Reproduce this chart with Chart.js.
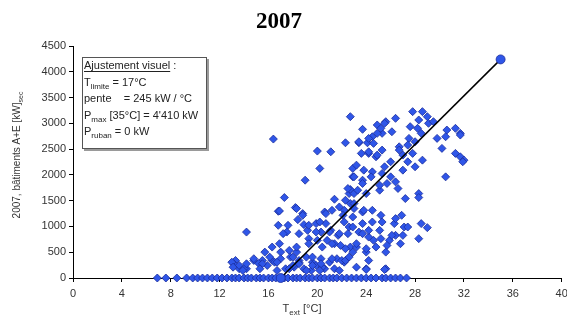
<!DOCTYPE html>
<html>
<head>
<meta charset="utf-8">
<script src="https://cdn.jsdelivr.net/npm/chart.js@4"></script>
<style>
  body { margin: 0; background: #fff; }
  #wrap { width: 567px; height: 320px; }
</style>
</head>
<body>
<div id="wrap"><canvas id="puissanceChart" width="567" height="320"></canvas></div>
<script>
const xTicks = [0, 4, 8, 12, 16, 20, 24, 28, 32, 36, 40];
const yTicks = [0, 500, 1000, 1500, 2000, 2500, 3000, 3500, 4000, 4500];

// points à puissance nulle (T ext)
const tZero = [6.9, 7.6, 8.5, 9.3, 9.8, 10.2, 10.6, 11.0, 11.4, 11.8, 12.2, 12.6, 13.0, 13.3, 13.6,
  14.0, 14.3, 14.6, 15.0, 15.3, 15.6, 16.0, 16.3, 16.6, 17.0, 17.3, 17.6, 18.0, 18.3, 18.6, 19.0,
  19.3, 19.6, 20.0, 20.3, 20.6, 21.0, 21.3, 21.6, 22.0, 22.4, 22.8, 23.2, 23.6, 24.0, 24.4, 24.8,
  25.3, 25.6, 26.0, 26.4, 26.8, 27.3];

// mesures journalières : température extérieure [°C] et puissance [kW]
const tExt = [17.3, 16.8, 18.2, 18.8, 18.4, 16.8, 17.6, 17.5, 18.9, 19.2, 18.5, 14.2, 21.4, 20.6, 19.9,
  20.7, 20.3, 21.1, 21.7, 22.2, 22.5, 22.2, 22.7, 22.6, 19.3, 20.0, 20.8, 21.4, 21.9, 22.7, 16.3,
  17.0, 17.7, 18.3, 15.7, 14.8, 15.5, 16.3, 17.0, 17.8, 18.5, 19.1, 19.6, 20.3, 21.0, 21.6, 22.2,
  14.2, 18.1, 18.9, 19.5, 19.9, 20.6, 21.4, 16.7, 17.4, 13.3, 13.2, 13.6, 13.0, 13.6, 14.0, 15.2,
  15.9, 16.5, 18.0, 18.5, 19.6, 20.4, 22.0, 24.0, 25.6, 16.4, 22.7, 22.3, 20.0, 21.1, 20.2, 19.0,
  22.9, 22.9, 22.7, 23.0, 23.7, 24.9, 25.6, 25.3, 24.5, 26.1, 23.4, 24.1, 23.6, 24.2, 24.8, 26.0,
  23.2, 23.8, 24.5, 25.3, 25.7, 23.7, 22.5, 23.3, 24.0, 25.1, 22.3, 23.0, 16.9, 18.3, 18.8, 20.7,
  21.2, 21.8, 22.1, 22.9, 23.7, 24.5, 25.2, 26.3, 17.2, 19.3, 20.2, 19.9, 21.0, 21.8, 22.6, 23.4,
  24.2, 25.1, 25.9, 26.4, 16.9, 18.3, 19.3, 20.4, 21.2, 22.3, 23.2, 24.0, 24.8, 25.6, 14.2, 14.8,
  15.5, 16.1, 16.7, 18.0, 18.5, 19.6, 20.3, 21.2, 22.3, 23.2, 24.2, 13.1, 13.9, 15.3, 17.7, 19.1,
  20.2, 21.8, 27.8, 28.6, 29.0, 28.3, 29.1, 29.5, 27.6, 28.2, 26.4, 25.5, 25.2, 24.9, 24.2, 23.4,
  24.6, 27.5, 28.0, 27.4, 26.7, 28.5, 29.8, 30.6, 31.3, 31.7, 30.5, 30.2, 31.3, 31.7, 32.0, 30.5,
  24.2, 24.9, 25.3, 26.7, 27.0, 27.8, 27.4, 28.6, 28.0, 25.5, 23.0, 24.4, 26.0, 26.4, 27.0, 23.7,
  25.1, 26.6, 28.3, 27.2, 28.3, 26.4, 26.9, 27.1, 27.4, 28.5, 29.0, 28.3, 26.1, 27.0, 26.8, 24.5,
  25.3, 23.7, 22.9, 24.2, 23.7, 25.2, 24.6, 25.7, 23.2, 24.0, 22.9, 22.6, 23.8, 23.0, 24.0, 25.5,
  31.7, 31.9];
const pKw = [1561, 1294, 1366, 1249, 1132, 1022, 1022, 891, 1035, 924, 860, 891, 1528, 1280, 1055,
  1055, 891, 924, 827, 1086, 860, 1313, 1444, 1638, 763, 730, 730, 665, 632, 600, 600,
  502, 535, 502, 502, 340, 340, 340, 374, 405, 340, 405, 307, 374, 307, 374, 307,
  179, 210, 179, 146, 243, 179, 179, 146, 179, 340, 263, 179, 307, 243, 185, 282,
  243, 307, 243, 300, 243, 210, 340, 179, 179, 2695, 3129, 2623, 2462, 2448, 2125, 1897,
  2125, 1962, 1716, 1638, 2884, 2968, 3032, 2806, 2740, 2837, 2623, 2623, 2417, 2417, 2351, 2254,
  2189, 2092, 2059, 2028, 1833, 1897, 1736, 1703, 1638, 1703, 1508, 1444, 1300, 1347, 1216, 1249,
  1313, 1378, 1216, 1183, 1280, 1313, 1216, 1055, 860, 1022, 1086, 891, 891, 860, 989, 891,
  794, 924, 730, 827, 665, 600, 665, 600, 665, 568, 600, 502, 600, 502, 276, 374,
  276, 405, 307, 405, 276, 405, 276, 374, 340, 210, 340, 210, 146, 179, 179, 146,
  146, 146, 3227, 3227, 3129, 3065, 3000, 3032, 2935, 2903, 3097, 3000, 2903, 2806, 2708, 2643,
  2611, 2708, 2643, 2578, 2545, 2806, 2708, 2870, 2903, 2806, 2740, 2514, 2417, 2351, 2286, 1962,
  2448, 2384, 2481, 2481, 2384, 2417, 2254, 2286, 2157, 2157, 1962, 1962, 1962, 1865, 2092, 1833,
  1800, 1736, 1638, 1541, 1561, 1152, 1216, 989, 989, 1055, 977, 763, 827, 827, 665, 1086,
  1086, 1055, 989, 924, 860, 763, 730, 632, 665, 568, 502, 405, 1313, 1347, 165, 165,
  2773, 2254];

// ajustement visuel
const fitT = [17, 35];
const fitP = [0, 4240];

const bleu = '#2f56e8';
const bleuBord = '#1b2c9c';
const police = "'Liberation Sans', Arial, sans-serif";

const points = tZero.map(t => ({ x: t, y: 0 }))
  .concat(tExt.map((t, i) => ({ x: t, y: pKw[i] })));
const droite = fitT.map((t, i) => ({ x: t, y: fitP[i] }));

// texte avec indices (T_ext, P_max ...)
function texteRiche(ctx, parts, x, y, size) {
  let cx = x;
  parts.forEach(p => {
    ctx.font = (p.sub ? size - 3 : size) + 'px ' + police;
    ctx.fillText(p.t, cx, p.sub ? y + 3 : y);
    const w = ctx.measureText(p.t).width;
    if (p.u) ctx.fillRect(cx, y + 2, w, 1);
    cx += w;
  });
}
function largeur(ctx, parts, size) {
  let larg = 0;
  parts.forEach(p => {
    ctx.font = (p.sub ? size - 3 : size) + 'px ' + police;
    larg += ctx.measureText(p.t).width;
  });
  return larg;
}

const textes = {
  id: 'textes',
  afterDraw(chart) {
    const ctx = chart.ctx;
    ctx.save();
    ctx.textAlign = 'left';
    ctx.textBaseline = 'alphabetic';

    // titre
    ctx.fillStyle = '#000';
    ctx.font = "bold 23px 'Liberation Serif', 'Times New Roman', serif";
    ctx.textAlign = 'center';
    ctx.fillText('2007', 279, 28);
    ctx.textAlign = 'left';

    // titre axe x
    ctx.fillStyle = '#333';
    const px = [{ t: 'T' }, { t: 'ext', sub: true }, { t: ' [°C]' }];
    texteRiche(ctx, px, 302 - largeur(ctx, px, 11) / 2, 312, 11);

    // titre axe y
    const py = [{ t: '2007, bâtiments A+E [kW]' }, { t: 'sec', sub: true }];
    ctx.translate(20, 155);
    ctx.rotate(-Math.PI / 2);
    texteRiche(ctx, py, -largeur(ctx, py, 10) / 2, 0, 10);
    ctx.setTransform(1, 0, 0, 1, 0, 0);

    // cadre d'annotation
    ctx.fillStyle = '#9a9a9a';
    ctx.fillRect(84, 59, 125, 92);
    ctx.fillStyle = '#fff';
    ctx.fillRect(82, 57, 125, 92);
    ctx.strokeStyle = '#555';
    ctx.lineWidth = 1;
    ctx.strokeRect(82.5, 57.5, 124, 91);
    ctx.fillStyle = '#222';
    const lignes = [
      [{ t: 'Ajustement visuel', u: true }, { t: ' :' }],
      [{ t: 'T' }, { t: 'limite', sub: true }, { t: ' = 17°C' }],
      [{ t: 'pente    = 245 kW / °C' }],
      [{ t: 'P' }, { t: 'max', sub: true }, { t: ' [35°C] = 4\'410 kW' }],
      [{ t: 'P' }, { t: 'ruban', sub: true }, { t: ' = 0 kW' }]
    ];
    lignes.forEach((l, i) => texteRiche(ctx, l, 84, 69 + i * 16.5, 11));
    ctx.restore();
  }
};

const ctx = document.getElementById('puissanceChart').getContext('2d');
const chart = new Chart(ctx, {
  type: 'scatter',
  data: {
    datasets: [{
      type: 'line',
      data: droite,
      borderColor: '#000',
      borderWidth: 1.5,
      pointRadius: 4.5,
      pointBackgroundColor: bleu,
      pointBorderColor: bleuBord,
      pointBorderWidth: 0.8,
      fill: false,
      clip: false
    }, {
      data: points,
      pointStyle: 'rectRot',
      pointRadius: 4,
      backgroundColor: bleu,
      borderColor: bleuBord,
      borderWidth: 0.8,
      clip: false
    }]
  },
  options: {
    responsive: false,
    animation: false,
    layout: { padding: { top: 46, right: 4, left: 0, bottom: 0 } },
    plugins: { legend: { display: false }, tooltip: { enabled: false } },
    scales: {
      x: {
        type: 'linear',
        min: xTicks[0],
        max: xTicks[xTicks.length - 1],
        afterBuildTicks: s => { s.ticks = xTicks.map(v => ({ value: v })); },
        afterFit: s => { s.height = 42; s.paddingLeft = 0; s.paddingRight = 0; },
        grid: { drawOnChartArea: false, drawTicks: true, tickLength: 4, color: '#000' },
        border: { color: '#000', width: 1 },
        ticks: { padding: 5, color: '#333', font: { family: police, size: 11 }, callback: v => String(v) }
      },
      y: {
        min: yTicks[0],
        max: yTicks[yTicks.length - 1],
        afterBuildTicks: s => { s.ticks = yTicks.map(v => ({ value: v })); },
        afterFit: s => { s.width = 73; s.paddingTop = 0; s.paddingBottom = 0; },
        grid: { drawOnChartArea: false, drawTicks: true, tickLength: 4, color: '#000' },
        border: { color: '#000', width: 1 },
        ticks: { padding: 3, color: '#333', font: { family: police, size: 11 }, callback: v => String(v) }
      }
    }
  },
  plugins: [textes]
});
</script>
</body>
</html>
